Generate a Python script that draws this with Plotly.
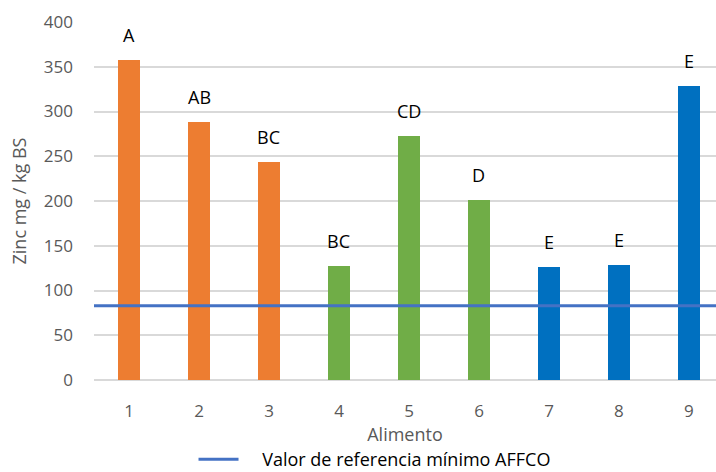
import plotly.graph_objects as go

# Zinc content per food sample (mg / kg dry basis) and significance groups
alimentos = [1, 2, 3, 4, 5, 6, 7, 8, 9]
zinc = [358, 288, 244, 127, 273, 201, 126, 128, 329]
grupos = ["A", "AB", "BC", "BC", "CD", "D", "E", "E", "E"]
colores = ["#ED7D31", "#ED7D31", "#ED7D31",
           "#70AD47", "#70AD47", "#70AD47",
           "#0070C0", "#0070C0", "#0070C0"]
referencia_aafco = 83
y_ticks = [0, 50, 100, 150, 200, 250, 300, 350, 400]

FUENTE = "Open Sans, Liberation Sans, sans-serif"

fig = go.Figure()

fig.add_trace(go.Bar(
    x=alimentos,
    y=zinc,
    width=0.31,
    marker=dict(color=colores, line=dict(width=0)),
    showlegend=False,
))

# Significance letters above each bar
for xa, ya, letra in zip(alimentos, zinc, grupos):
    fig.add_annotation(
        x=xa, y=ya, text=letra,
        showarrow=False,
        yanchor="bottom",
        yshift=11,
        font=dict(family=FUENTE, size=18, color="#000000"),
    )

fig.add_shape(
    type="line",
    xref="paper", x0=0, x1=1,
    yref="y", y0=referencia_aafco, y1=referencia_aafco,
    line=dict(color="#4472C4", width=3),
    showlegend=True,
    name="\u00a0\u00a0\u00a0\u00a0Valor de referencia mínimo AFFCO",
)

fig.update_layout(
    width=716,
    height=472,
    margin=dict(l=94, r=0, t=22, b=92, autoexpand=False),
    plot_bgcolor="#FFFFFF",
    paper_bgcolor="#FFFFFF",
    font=dict(family=FUENTE, color="#595959", size=17),
    bargap=0,
    xaxis=dict(
        range=[0.5, 9.386],
        tickmode="array",
        tickvals=alimentos,
        ticktext=[str(a) for a in alimentos],
        showgrid=False,
        zeroline=False,
        showline=False,
        ticks="",
        automargin=False,
        ticklabelstandoff=19,
        title=dict(text="Alimento", standoff=6, font=dict(size=18, color="#595959")),
        tickfont=dict(size=17, color="#595959"),
    ),
    yaxis=dict(
        range=[0, 400],
        tickmode="array",
        tickvals=y_ticks,
        showgrid=True,
        gridcolor="#D9D9D9",
        gridwidth=1.5,
        zeroline=True,
        zerolinecolor="#D9D9D9",
        zerolinewidth=1.5,
        showline=False,
        ticks="",
        automargin=False,
        ticklabelstandoff=20,
        title=dict(text="Zinc mg / kg BS", standoff=12, font=dict(size=18, color="#595959")),
        tickfont=dict(size=17, color="#595959"),
    ),
    legend=dict(
        orientation="h",
        x=0.16, xanchor="left",
        y=-0.222, yanchor="middle",
        font=dict(family=FUENTE, size=18, color="#000000"),
        bgcolor="rgba(0,0,0,0)",
        itemwidth=40,
        borderwidth=0,
    ),
    showlegend=True,
)

fig.write_html("out.html")
